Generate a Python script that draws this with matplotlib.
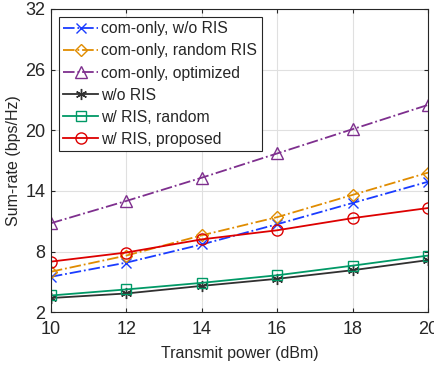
import matplotlib.pyplot as plt

plt.rcParams['font.family'] = ['Liberation Sans', 'DejaVu Sans']
plt.rcParams['font.size'] = 11
plt.rcParams['text.color'] = '#262626'
plt.rcParams['axes.labelcolor'] = '#262626'
plt.rcParams['xtick.color'] = '#262626'
plt.rcParams['ytick.color'] = '#262626'

power = [10, 12, 14, 16, 18, 20]

com_wo_ris = [5.5, 6.9, 8.7, 10.7, 12.8, 14.9]
com_random = [6.0, 7.6, 9.6, 11.4, 13.6, 15.8]
com_opt = [10.8, 13.0, 15.3, 17.7, 20.1, 22.5]
wo_ris = [3.4, 3.85, 4.6, 5.3, 6.15, 7.15]
ris_random = [3.65, 4.25, 4.9, 5.65, 6.6, 7.6]
ris_proposed = [7.0, 7.9, 9.2, 10.1, 11.3, 12.3]

yticks = [2, 8, 14, 20, 26, 32]


def main():
    f = plt.figure(figsize=(4.35, 3.69), dpi=100)
    ax = f.add_axes([0.117, 0.154, 0.867, 0.822])

    ax.plot(power, com_wo_ris, '-.', color='#1a3cff', marker='x', ms=7, mfc='none',
            lw=1.3, label='com-only, w/o RIS')
    ax.plot(power, com_random, '-.', color='#e08c00', marker='D', ms=6.5, mfc='none',
            lw=1.3, label='com-only, random RIS')
    ax.plot(power, com_opt, '-.', color='#7e2f8e', marker='^', ms=8.5, mfc='none',
            lw=1.3, label='com-only, optimized')
    ax.plot(power, wo_ris, '-', color='#303030', marker=(6, 2, 0), ms=8, mfc='none',
            lw=1.3, label='w/o RIS')
    ax.plot(power, ris_random, '-', color='#009966', marker='s', ms=6.5, mfc='none',
            lw=1.3, label='w/ RIS, random')
    ax.plot(power, ris_proposed, '-', color='#dd0000', marker='o', ms=8, mfc='none',
            lw=1.3, label='w/ RIS, proposed')

    ax.set_xlim(10, 20)
    ax.set_ylim(2, 32)
    ax.set_xticks(power)
    ax.set_yticks(yticks)
    ax.grid(True, color='#e0e0e0', lw=0.8)
    ax.tick_params(direction='in', top=True, right=True, length=3, labelsize=13)
    ax.tick_params(axis='x', pad=6)
    ax.tick_params(axis='y', pad=4)
    for s in ax.spines.values():
        s.set_color('#262626')
        s.set_linewidth(0.8)

    ax.set_xlabel('Transmit power (dBm)', fontsize=11.5, labelpad=6)
    ax.set_ylabel('Sum-rate (bps/Hz)', fontsize=11.5, labelpad=3)

    leg = ax.legend(loc='upper left', fontsize=11.3, fancybox=False, framealpha=1,
                    edgecolor='#262626', handlelength=2.2, handletextpad=0.2,
                    borderpad=0.3, labelspacing=0.45, borderaxespad=0.5)
    leg.get_frame().set_linewidth(0.8)

    f.savefig('out.png', dpi=100)


if __name__ == "__main__": main()
